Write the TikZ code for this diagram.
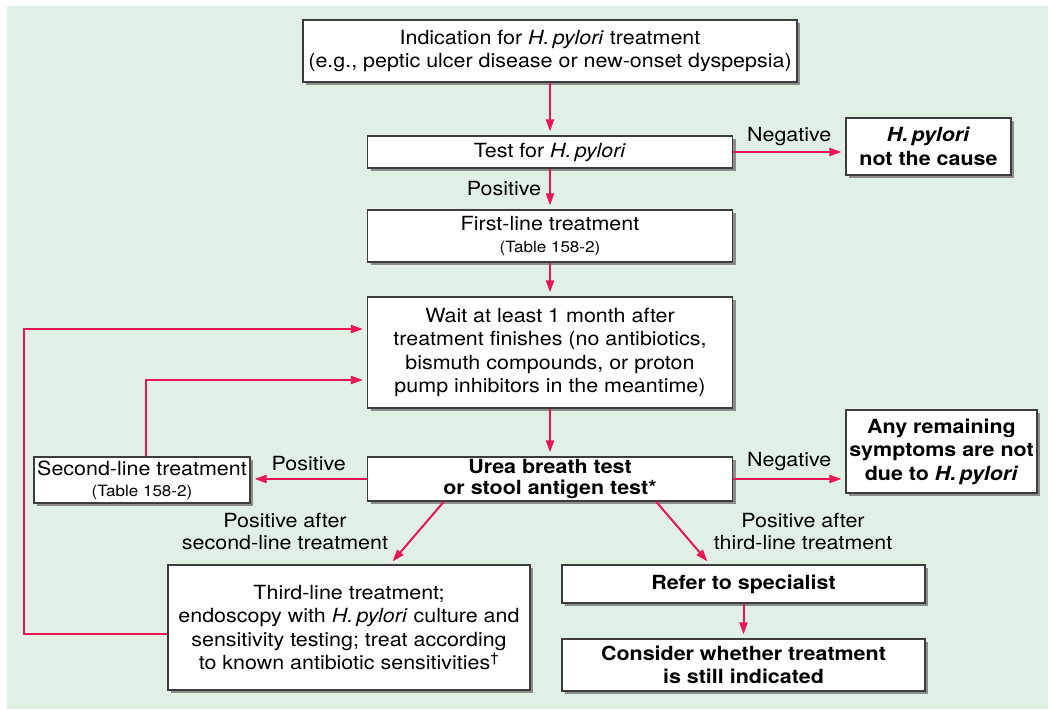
\documentclass[tikz,border=0pt]{standalone}
\usepackage{fontspec}
\setmainfont{TeX Gyre Heros}[FakeStretch=1.1]
\usetikzlibrary{arrows.meta,shadows}
\definecolor{panel}{RGB}{224,240,229}
\definecolor{flow}{RGB}{232,22,82}
\definecolor{edge}{RGB}{60,60,60}
\newcommand{\hp}{\textit{H.\,pylori}}
\newcommand{\tbl}{{\fontsize{15.5}{17}\selectfont(Table 158-2)}}
\begin{document}
\begin{tikzpicture}[x=1pt,y=-1pt,
  box/.style={draw=edge, line width=1.2pt, fill=white, align=center, inner sep=0pt,
    font=\fontsize{19.5}{23.5}\selectfont,
    drop shadow={shadow xshift=3pt, shadow yshift=-3pt, fill=black!45, opacity=1}},
  boldbox/.style={box, font=\fontsize{19.5}{23.5}\selectfont\bfseries},
  flowarrow/.style={draw=flow, line width=2pt, shorten >=4pt,
    -{Triangle[length=12pt,width=8pt]}},
  lbl/.style={font=\fontsize{19.5}{22}\selectfont, align=center, inner sep=0pt}
]
\useasboundingbox (0,0) rectangle (1048,709);
\fill[panel] (7,6) rectangle (1048,709);

% boxes
\node[box, minimum width=494, minimum height=62] (ind) at (550,51)
  {Indication for \hp{} treatment\\(e.g., peptic ulcer disease or new-onset dyspepsia)};
\node[box, minimum width=365, minimum height=32] (test) at (550,152) {Test for \hp};
\node[boldbox, minimum width=165, minimum height=57] (nocause) at (928.5,146.5)
  {\textit{H.\,pylori}\\not the cause};
\node[box, minimum width=365, minimum height=52, font=\fontsize{19.5}{22}\selectfont] (first) at (550,236)
  {First-line treatment\\\tbl};
\node[box, minimum width=365, minimum height=111] (wait) at (550,352.5)
  {Wait at least 1 month after\\treatment finishes (no antibiotics,\\bismuth compounds, or proton\\pump inhibitors in the meantime)};
\node[boldbox, minimum width=365, minimum height=44, font=\fontsize{19.5}{20.5}\selectfont\bfseries] (urea) at (550,479)
  {Urea breath test\\or stool antigen test*};
\node[boldbox, minimum width=191, minimum height=83] (remain) at (941.5,451.5)
  {Any remaining\\symptoms are not\\due to \textit{H.\,pylori}};
\node[box, minimum width=216, minimum height=46, font=\fontsize{19.5}{21}\selectfont] (second) at (142,480)
  {Second-line treatment\\\tbl};
\node[box, minimum width=362, minimum height=125] (third) at (349,627.5)
  {Third-line treatment;\\endoscopy with \hp{} culture and\\sensitivity testing; treat according\\to known antibiotic sensitivities\textsuperscript{†}};
\node[boldbox, minimum width=363, minimum height=38] (refer) at (743.5,584)
  {Refer to specialist};
\node[boldbox, minimum width=363, minimum height=52] (consider) at (743.5,665)
  {Consider whether treatment\\is still indicated};

% connectors
\draw[flowarrow] (ind.south) -- (test.north);
\draw[flowarrow] (test.east) -- (test.east -| nocause.west)
  node[lbl, midway, above=5pt] {Negative};
\draw[flowarrow] (test.south) -- (first.north)
  node[lbl, midway, left=8pt] {Positive};
\draw[flowarrow] (first.south) -- (wait.north);
\draw[flowarrow] (wait.south) -- (urea.north);
\draw[flowarrow] (urea.east) -- (urea.east -| remain.west)
  node[lbl, midway, above=7pt] {Negative};
\draw[flowarrow] (urea.west) -- (urea.west -| second.east)
  node[lbl, midway, above=7pt] {Positive};
\draw[flowarrow] ([xshift=4pt]second.north) |- ([yshift=-27.5pt]wait.west);
\coordinate (loopcorner) at (24,329);
\draw[flowarrow] ([yshift=-6pt]third.west) -| (loopcorner) -- ([yshift=23.5pt]wait.west);
\draw[flowarrow] ([xshift=77pt]urea.south west) -- ([xshift=41pt]third.north);
\draw[flowarrow] ([xshift=-77pt]urea.south east) -- ([xshift=-33.5pt]refer.north);
\draw[flowarrow] (refer.south) -- (consider.north);

\node[lbl] (lblsecond) at (285,532) {Positive after\\second-line treatment};
\node[lbl] (lblthird) at (803,532) {Positive after\\third-line treatment};
\end{tikzpicture}
\end{document}
